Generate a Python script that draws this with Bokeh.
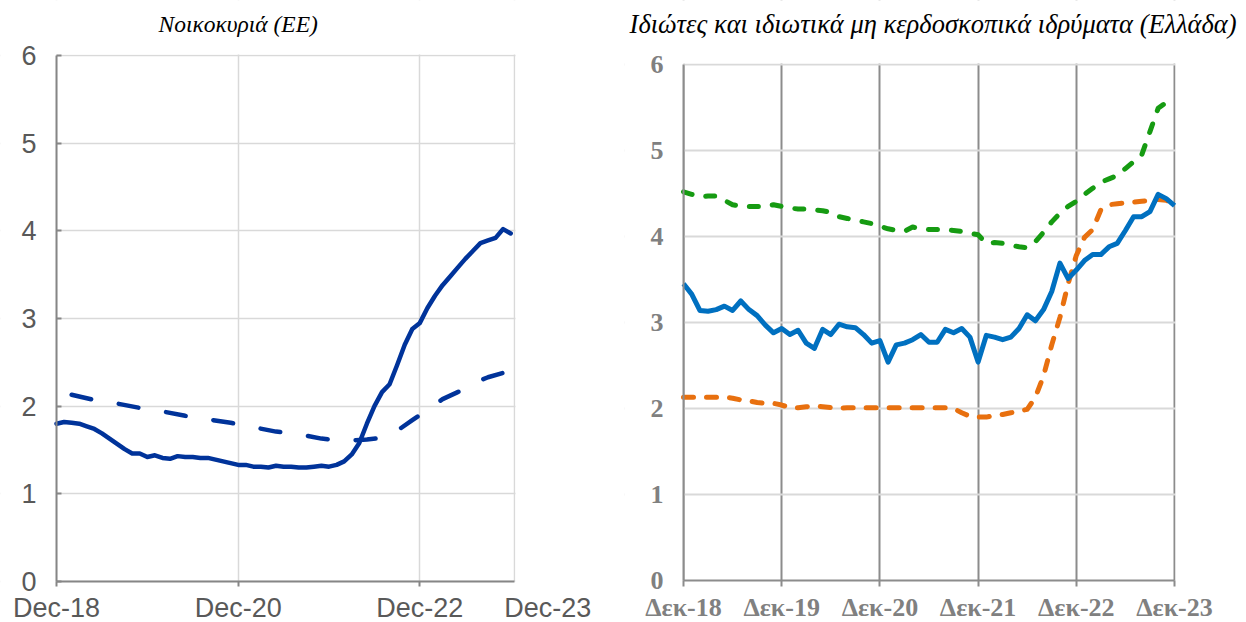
from bokeh.plotting import figure
from bokeh.layouts import row
from bokeh.models import Range1d, FixedTicker, LinearAxis, BoxAnnotation
from bokeh.core.properties import value
from bokeh.embed import file_html
from bokeh.resources import INLINE

# ---------------- data ----------------
# Left chart: households (EU) — months since Dec-18
eu_months = list(range(0, 61))
eu_actual = [1.80, 1.82, 1.81, 1.80, 1.77, 1.74, 1.69, 1.63, 1.57, 1.51,
             1.46, 1.46, 1.42, 1.44, 1.41, 1.40, 1.43, 1.42, 1.42, 1.41,
             1.41, 1.39, 1.37, 1.35, 1.33, 1.33, 1.31, 1.31, 1.30, 1.32,
             1.31, 1.31, 1.30, 1.30, 1.31, 1.32, 1.31, 1.33, 1.37, 1.45,
             1.58, 1.80, 2.00, 2.16, 2.25, 2.47, 2.70, 2.88, 2.95, 3.12,
             3.26, 3.38, 3.48, 3.58, 3.68, 3.77, 3.86, 3.89, 3.92, 4.02,
             3.97]
eu_dash_months = [2, 5, 8, 11, 14, 17, 20, 23, 26, 29, 32, 35, 37, 39, 41,
                  43, 45, 47, 49, 51, 53, 55, 57, 59, 60]
eu_dashed = [2.13, 2.07, 2.03, 1.98, 1.94, 1.89, 1.85, 1.81, 1.76, 1.71,
             1.68, 1.63, 1.61, 1.61, 1.62, 1.64, 1.72, 1.84, 1.96, 2.08,
             2.16, 2.26, 2.33, 2.38, 2.40]
eu_tick_pos = [0, 24, 48]
eu_tick_labels = ["Dec-18", "Dec-20", "Dec-22"]
eu_last_pos = 64.9          # where the original chart put its last date label
eu_last_label = "Dec-23"

# Right chart: Greece — months since Dec-18
gr_months = list(range(0, 61))
gr_blue = [3.45, 3.33, 3.14, 3.13, 3.15, 3.19, 3.14, 3.25, 3.15, 3.08,
           2.97, 2.88, 2.93, 2.86, 2.91, 2.76, 2.70, 2.92, 2.86, 2.98,
           2.95, 2.94, 2.86, 2.76, 2.79, 2.54, 2.74, 2.76, 2.80, 2.86,
           2.77, 2.77, 2.92, 2.88, 2.93, 2.83, 2.54, 2.85, 2.83, 2.80,
           2.83, 2.93, 3.09, 3.02, 3.15, 3.36, 3.69, 3.51, 3.61, 3.72,
           3.79, 3.79, 3.88, 3.92, 4.07, 4.23, 4.23, 4.29, 4.49, 4.44,
           4.36]
gr_green = [4.52, 4.49, 4.46, 4.47, 4.47, 4.42, 4.37, 4.35, 4.35, 4.35,
            4.35, 4.37, 4.35, 4.33, 4.32, 4.32, 4.31, 4.30, 4.28, 4.23,
            4.21, 4.19, 4.17, 4.15, 4.12, 4.09, 4.07, 4.06, 4.11, 4.09,
            4.08, 4.08, 4.08, 4.07, 4.06, 4.04, 4.02, 3.92, 3.93, 3.92,
            3.90, 3.88, 3.87, 3.94, 4.05, 4.17, 4.27, 4.35, 4.41, 4.49,
            4.56, 4.63, 4.67, 4.71, 4.79, 4.87, 4.95, 5.22, 5.49, 5.56,
            5.58]
gr_orange = [2.13, 2.13, 2.13, 2.13, 2.13, 2.13, 2.12, 2.10, 2.09, 2.07,
             2.06, 2.06, 2.04, 2.01, 2.01, 2.02, 2.03, 2.02, 2.01, 2.00,
             2.01, 2.01, 2.01, 2.01, 2.01, 2.01, 2.01, 2.01, 2.01, 2.01,
             2.01, 2.01, 2.01, 2.00, 1.95, 1.91, 1.90, 1.90, 1.92, 1.93,
             1.95, 1.97, 1.99, 2.13, 2.38, 2.74, 3.06, 3.45, 3.78, 3.99,
             4.08, 4.31, 4.37, 4.38, 4.39, 4.40, 4.41, 4.42, 4.43, 4.42,
             4.39]
gr_tick_pos = [0, 12, 24, 36, 48, 60]
gr_tick_labels = ["Δεκ-18", "Δεκ-19", "Δεκ-20", "Δεκ-21", "Δεκ-22", "Δεκ-23"]

y_ticks = [0, 1, 2, 3, 4, 5, 6]
Y_MAX = 6

left_title = "Νοικοκυριά (ΕΕ)"
right_title = "Ιδιώτες και ιδιωτικά μη κερδοσκοπικά ιδρύματα (Ελλάδα)"

# ---------------- layout geometry (pixels) ----------------
H = 622
TITLE_BASE = 23                          # px of the titles' baseline
# left panel
L_W = 624
L_X0, L_XE, EU_END = 56, 514, 60.5       # px of Dec-18, px of axis end, axis end (months)
L_Y0, L_Y6 = 581, 55                     # px of value 0 and value 6
# right panel
R_W = 620
R_X0, R_XE, GR_END = 59, 550, 60
R_Y0, R_Y6 = 580, 64


def ranges(w, x0, xe, xend, y0, y6):
    kx = (xe - x0) / xend
    ky = (y0 - y6) / Y_MAX
    xr = Range1d(-x0 / kx, (w - x0) / kx)
    yr = Range1d(-(H - y0) / ky, Y_MAX + y6 / ky)
    return xr, yr, kx, ky


def mask(p, xend, kx, ky, pad=1.0):
    # white masks outside the plotting area (drawn just above the grid)
    for kw in (dict(right=0), dict(left=xend + pad / kx),
               dict(top=0), dict(bottom=Y_MAX + pad / ky)):
        p.add_layout(BoxAnnotation(fill_color="white", fill_alpha=1,
                                   line_color=None, level="underlay", **kw))


# ---------------- left chart ----------------
xr1, yr1, kx1, ky1 = ranges(L_W, L_X0, L_XE, EU_END, L_Y0, L_Y6)
p1 = figure(width=L_W, height=H, output_backend="svg", toolbar_location=None,
            x_range=xr1, y_range=yr1, min_border=0, min_border_left=0,
            min_border_right=0, min_border_top=0, min_border_bottom=0)
p1.outline_line_color = None
p1.xgrid.ticker = FixedTicker(ticks=eu_tick_pos + [EU_END])
p1.ygrid.ticker = FixedTicker(ticks=y_ticks)
for g in (p1.xgrid, p1.ygrid):
    g.grid_line_color = "#d9d9d9"
    g.grid_line_width = 1.5
mask(p1, EU_END, kx1, ky1)


def style_left_axis(ax):
    ax.axis_line_color = "#868686"
    ax.axis_line_width = 2
    ax.major_tick_line_color = "#868686"
    ax.major_tick_line_width = 2
    ax.minor_tick_line_color = None
    ax.major_label_text_font = "Liberation Sans"
    ax.major_label_text_font_size = "27px"
    ax.major_label_text_color = "#595959"


xa = p1.xaxis[0]
ya = p1.yaxis[0]
style_left_axis(xa)
style_left_axis(ya)
xa.fixed_location = 0
xa.bounds = (0, EU_END)
xa.ticker = FixedTicker(ticks=eu_tick_pos)
xa.major_label_overrides = {t: l for t, l in zip(eu_tick_pos, eu_tick_labels)}
xa.major_tick_out = 5
xa.major_tick_in = 0
xa.major_label_standoff = 6
ya.fixed_location = 0
ya.bounds = (0, Y_MAX)
ya.ticker = FixedTicker(ticks=y_ticks)
ya.major_tick_out = 0
ya.major_tick_in = 5
ya.major_label_standoff = 20

last_axis = LinearAxis(fixed_location=0, ticker=FixedTicker(ticks=[eu_last_pos]),
                       major_label_overrides={eu_last_pos: eu_last_label})
style_left_axis(last_axis)
last_axis.axis_line_color = None
last_axis.major_tick_line_color = None
last_axis.major_tick_out = 5
last_axis.major_tick_in = 0
last_axis.major_label_standoff = 6
p1.add_layout(last_axis, "below")

p1.line(eu_dash_months, eu_dashed, line_color="#00339a", line_width=4.5,
        line_dash="20 28", line_cap="round")
p1.line(eu_months, eu_actual, line_color="#00339a", line_width=4.5,
        line_join="round", line_cap="round")

p1.text(x=[24], y=[Y_MAX + (L_Y6 - TITLE_BASE) / ky1], text=[left_title],
        text_font=value("Liberation Serif"), text_font_style="italic",
        text_font_size="23.5px", text_color="#000000",
        text_align="center", text_baseline="alphabetic")

# ---------------- right chart ----------------
xr2, yr2, kx2, ky2 = ranges(R_W, R_X0, R_XE, GR_END, R_Y0, R_Y6)
p2 = figure(width=R_W, height=H, output_backend="svg", toolbar_location=None,
            x_range=xr2, y_range=yr2, min_border=0, min_border_left=0,
            min_border_right=0, min_border_top=0, min_border_bottom=0)
p2.outline_line_color = None
p2.xgrid.ticker = FixedTicker(ticks=gr_tick_pos)
p2.ygrid.ticker = FixedTicker(ticks=y_ticks[1:])
p2.xgrid.grid_line_color = "#8c8c8c"
p2.xgrid.grid_line_width = 2
p2.ygrid.grid_line_color = "#d9d9d9"
p2.ygrid.grid_line_width = 2
mask(p2, GR_END, kx2, ky2)

xb = p2.xaxis[0]
yb = p2.yaxis[0]
for ax in (xb, yb):
    ax.axis_line_color = "#8c8c8c"
    ax.axis_line_width = 2
    ax.major_tick_line_color = "#8c8c8c"
    ax.major_tick_line_width = 2
    ax.minor_tick_line_color = None
    ax.major_label_text_font = "Liberation Serif"
    ax.major_label_text_font_style = "bold"
    ax.major_label_text_font_size = "26px"
    ax.major_label_text_color = "#808080"
xb.fixed_location = 0
xb.bounds = (0, GR_END)
xb.ticker = FixedTicker(ticks=gr_tick_pos)
xb.major_label_overrides = {t: l for t, l in zip(gr_tick_pos, gr_tick_labels)}
xb.major_tick_out = 6
xb.major_tick_in = 0
xb.major_label_standoff = 6
yb.fixed_location = 0
yb.bounds = (0, Y_MAX)
yb.ticker = FixedTicker(ticks=y_ticks)
yb.major_tick_out = 0
yb.major_tick_in = 0
yb.major_label_standoff = 20

p2.line(gr_months, gr_green, line_color="#169b12", line_width=5,
        line_dash="9 14", line_cap="round", line_join="round")
p2.line(gr_months, gr_orange, line_color="#e8700f", line_width=5,
        line_dash="10 13", line_cap="round", line_join="round")
p2.line(gr_months, gr_blue, line_color="#0070c0", line_width=5,
        line_join="round")

p2.text(x=[30.5], y=[Y_MAX + (R_Y6 - TITLE_BASE) / ky2], text=[right_title],
        text_font=value("Liberation Serif"), text_font_style="italic",
        text_font_size="26.5px", text_color="#000000",
        text_align="center", text_baseline="alphabetic")

for p in (p1, p2):
    try:
        p.frame_align = False
    except AttributeError:
        pass

layout = row(p1, p2)
open("out.html", "w").write(file_html(layout, INLINE))
